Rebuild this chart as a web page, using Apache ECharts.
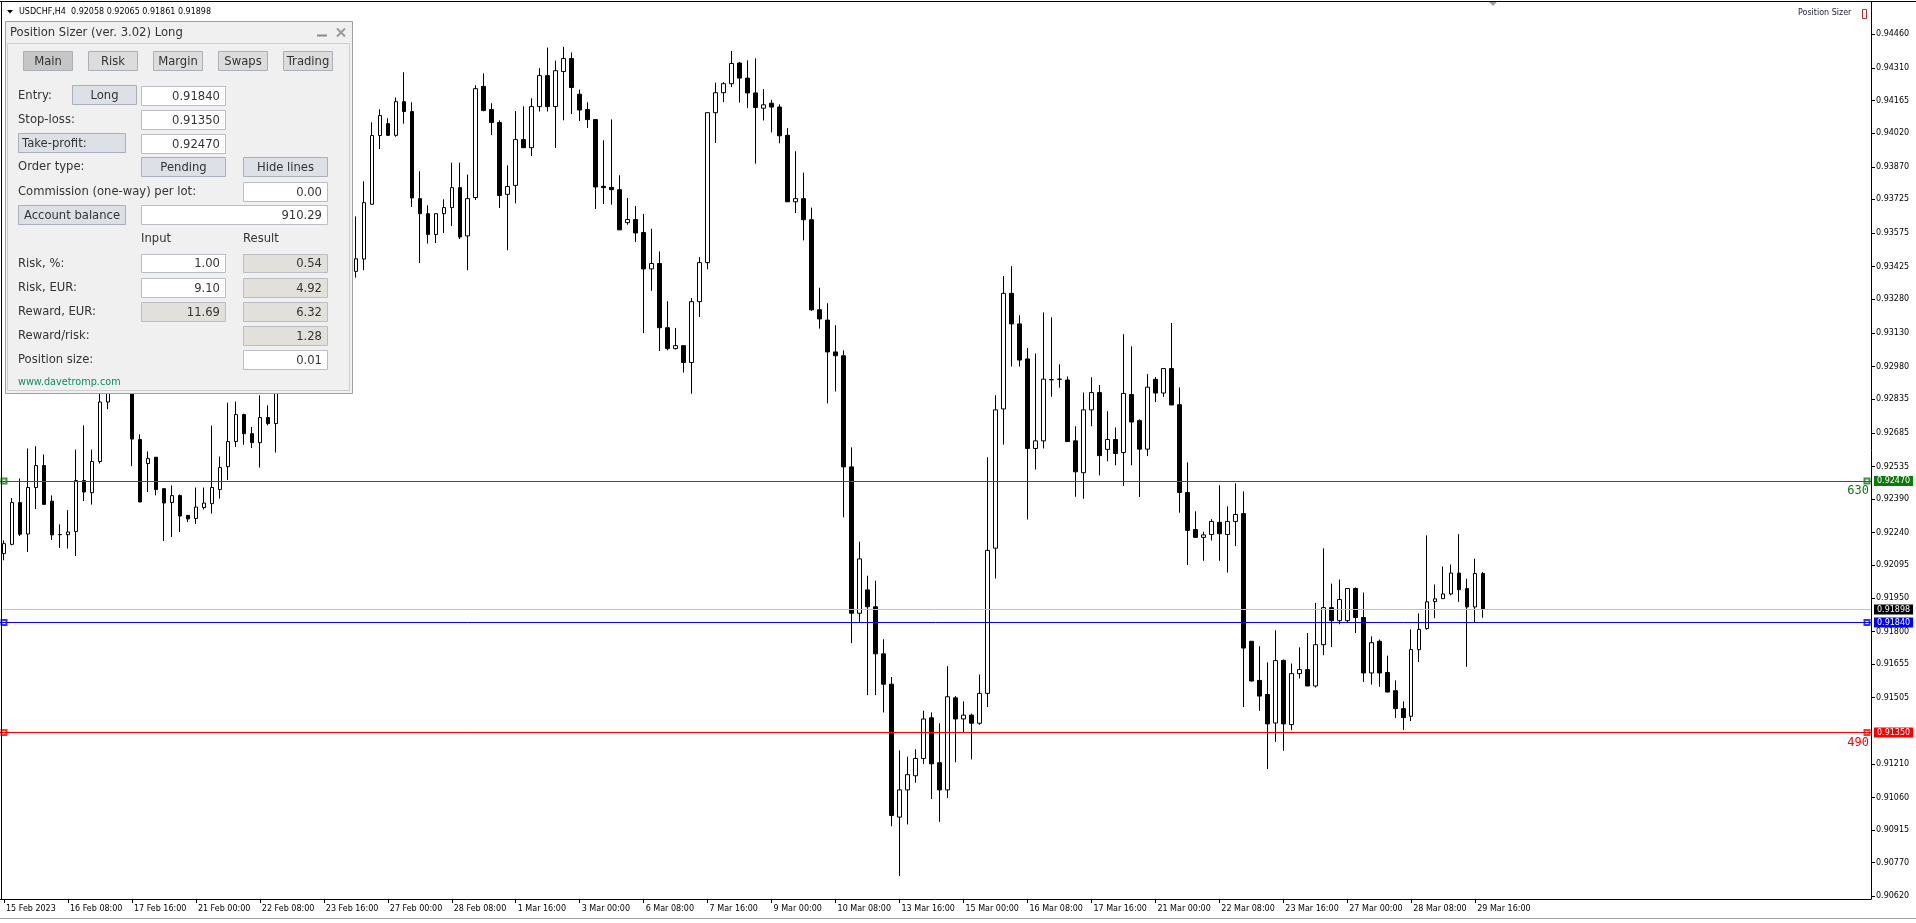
<!DOCTYPE html>
<html>
<head>
<meta charset="utf-8">
<script src="https://cdn.jsdelivr.net/npm/echarts@6/dist/echarts.min.js"></script>
<style>
html,body{margin:0;padding:0;background:#fff;}
#chart{width:1916px;height:923px;}
</style>
</head>
<body>
<div id="chart"></div>
<script>
// ---- candle data (USDCHF H4, 15 Feb 2023 00:00 .. 29 Mar 2023 20:00) ----
const open = [0.92147,0.92188,0.92374,0.92234,0.92441,0.92539,0.92380,0.92232,0.92231,0.92245,
0.92472,0.92418,0.92557,0.92822,0.92883,0.92954,0.92919,0.92655,0.92548,0.92576,
0.92436,0.92374,0.92405,0.92317,0.92303,0.92352,0.92369,0.92432,0.92534,0.92646,
0.92766,0.92681,0.92641,0.92753,0.92726,0.92896,0.92963,0.92928,0.93075,0.93141,
0.93097,0.93253,0.93320,0.93293,0.93404,0.93459,0.93703,0.94009,0.94062,0.94010,
0.94160,0.94116,0.93728,0.93661,0.93568,0.93661,0.93688,0.93777,0.93562,0.93733,
0.94228,0.94125,0.94067,0.93747,0.93787,0.93991,0.93955,0.94138,0.94276,0.94138,
0.94294,0.94352,0.94193,0.94125,0.94080,0.93783,0.93778,0.93768,0.93621,0.93635,
0.93577,0.93415,0.93439,0.93153,0.93060,0.93073,0.92998,0.93269,0.93443,0.94111,
0.94200,0.94240,0.94332,0.94265,0.94199,0.94131,0.94153,0.94136,0.94010,0.93714,
0.93728,0.93634,0.93233,0.93187,0.93045,0.93028,0.92533,0.91881,0.91985,0.91910,
0.91700,0.91565,0.90973,0.91094,0.91157,0.91234,0.91415,0.91215,0.91094,0.91504,
0.91410,0.91427,0.91391,0.91524,0.92171,0.92791,0.93306,0.93170,0.93014,0.92615,
0.92649,0.92921,0.92923,0.92920,0.92649,0.92507,0.92787,0.92864,0.92611,0.92655,
0.92597,0.92855,0.92739,0.92612,0.92923,0.92862,0.92971,0.92810,0.92419,0.92254,
0.92219,0.92232,0.92286,0.92232,0.92290,0.92325,0.91756,0.91582,0.91519,0.91392,
0.91671,0.91385,0.91612,0.91630,0.91557,0.91741,0.91906,0.91848,0.91848,0.91991,
0.91862,0.91615,0.91756,0.91617,0.91536,0.91456,0.91422,0.91719,0.91813,0.91933,
0.91946,0.91967,0.92060,0.91991,0.91909,0.92058];
const high = [0.92206,0.92394,0.92481,0.92615,0.92625,0.92588,0.92406,0.92277,0.92340,0.92610,
0.92718,0.92610,0.92865,0.92919,0.92986,0.92999,0.92941,0.92678,0.92602,0.92577,
0.92437,0.92450,0.92410,0.92318,0.92441,0.92441,0.92717,0.92579,0.92819,0.92824,
0.92770,0.92711,0.92852,0.92807,0.92928,0.92999,0.93008,0.93097,0.93186,0.93177,
0.93284,0.93364,0.93355,0.93431,0.93649,0.93805,0.94068,0.94126,0.94086,0.94179,
0.94291,0.94157,0.93850,0.93698,0.93662,0.93725,0.93888,0.93888,0.93835,0.94233,
0.94286,0.94153,0.94077,0.93876,0.94118,0.94139,0.94175,0.94309,0.94401,0.94343,
0.94404,0.94379,0.94214,0.94157,0.94081,0.93988,0.94081,0.93832,0.93731,0.93695,
0.93660,0.93594,0.93493,0.93271,0.93152,0.93074,0.93285,0.93467,0.94112,0.94245,
0.94247,0.94386,0.94337,0.94344,0.94353,0.94216,0.94168,0.94148,0.94042,0.93939,
0.93844,0.93688,0.93331,0.93262,0.93164,0.93052,0.92620,0.92200,0.92048,0.92026,
0.91765,0.91597,0.91270,0.91242,0.91275,0.91447,0.91439,0.91391,0.91645,0.91512,
0.91488,0.91434,0.91608,0.92576,0.92852,0.93383,0.93427,0.93209,0.93062,0.93038,
0.93221,0.93199,0.92990,0.92936,0.92714,0.92864,0.92932,0.92898,0.92781,0.92709,
0.93124,0.93070,0.92745,0.92946,0.92933,0.92972,0.93174,0.92887,0.92553,0.92335,
0.92244,0.92300,0.92451,0.92357,0.92460,0.92424,0.91757,0.91734,0.91662,0.91805,
0.91675,0.91657,0.91729,0.91793,0.91927,0.92170,0.92013,0.92031,0.91992,0.91996,
0.91973,0.91778,0.91764,0.91692,0.91582,0.91488,0.91809,0.91880,0.92228,0.92009,
0.92089,0.92098,0.92233,0.92035,0.92124,0.92065];
const low = [0.92117,0.92184,0.92225,0.92154,0.92345,0.92363,0.92207,0.92172,0.92169,0.92136,
0.92381,0.92365,0.92548,0.92790,0.92865,0.92874,0.92536,0.92375,0.92421,0.92406,
0.92203,0.92221,0.92243,0.92287,0.92279,0.92343,0.92325,0.92392,0.92475,0.92622,
0.92631,0.92617,0.92530,0.92718,0.92597,0.92865,0.92896,0.92910,0.93043,0.93061,
0.93075,0.93222,0.93275,0.93275,0.93376,0.93409,0.93700,0.93949,0.94007,0.94004,
0.94062,0.93691,0.93441,0.93528,0.93530,0.93575,0.93606,0.93548,0.93409,0.93722,
0.94117,0.94011,0.93686,0.93498,0.93707,0.93954,0.93918,0.94116,0.94116,0.93954,
0.94077,0.94105,0.94074,0.94043,0.93682,0.93704,0.93701,0.93588,0.93612,0.93535,
0.93129,0.93317,0.93049,0.93052,0.93056,0.92953,0.92859,0.93201,0.93413,0.93976,
0.94158,0.94225,0.94156,0.94131,0.93884,0.94076,0.94023,0.93975,0.93713,0.93664,
0.93542,0.93228,0.93149,0.92816,0.92869,0.92308,0.91748,0.91842,0.91516,0.91516,
0.91439,0.90932,0.90711,0.90940,0.91126,0.91210,0.91053,0.90952,0.91058,0.91217,
0.91352,0.91230,0.91384,0.91463,0.92036,0.92632,0.92980,0.92980,0.92299,0.92521,
0.92615,0.92845,0.92886,0.92644,0.92400,0.92391,0.92714,0.92495,0.92558,0.92540,
0.92448,0.92540,0.92399,0.92581,0.92822,0.92845,0.92808,0.92329,0.92096,0.92218,
0.92115,0.92205,0.92115,0.92062,0.92180,0.91463,0.91578,0.91446,0.91187,0.91308,
0.91268,0.91360,0.91590,0.91556,0.91550,0.91694,0.91730,0.91832,0.91842,0.91793,
0.91575,0.91563,0.91553,0.91529,0.91414,0.91361,0.91401,0.91664,0.91808,0.91859,
0.91945,0.91961,0.91932,0.91642,0.91839,0.91861];
const close = [0.92191,0.92374,0.92233,0.92441,0.92539,0.92366,0.92230,0.92231,0.92243,0.92472,
0.92421,0.92557,0.92822,0.92883,0.92954,0.92919,0.92657,0.92377,0.92570,0.92432,
0.92372,0.92405,0.92314,0.92301,0.92354,0.92372,0.92441,0.92530,0.92646,0.92766,
0.92681,0.92641,0.92753,0.92726,0.92896,0.92963,0.92928,0.93075,0.93141,0.93097,
0.93253,0.93320,0.93293,0.93404,0.93460,0.93710,0.94009,0.94098,0.94010,0.94160,
0.94116,0.93731,0.93661,0.93568,0.93661,0.93688,0.93777,0.93557,0.93728,0.94218,
0.94121,0.94067,0.93742,0.93782,0.93991,0.93955,0.94138,0.94276,0.94138,0.94298,
0.94352,0.94223,0.94123,0.94080,0.93780,0.93777,0.93768,0.93589,0.93635,0.93575,
0.93415,0.93439,0.93153,0.93060,0.93073,0.92998,0.93269,0.93443,0.94111,0.94200,
0.94240,0.94330,0.94265,0.94199,0.94134,0.94146,0.94136,0.94008,0.93714,0.93728,
0.93634,0.93233,0.93192,0.93045,0.93028,0.92533,0.91881,0.92123,0.91910,0.91700,
0.91565,0.90980,0.91094,0.91162,0.91234,0.91410,0.91210,0.91094,0.91509,0.91410,
0.91427,0.91391,0.91524,0.92161,0.92787,0.93306,0.93170,0.93009,0.92615,0.92649,
0.92924,0.92922,0.92924,0.92646,0.92511,0.92787,0.92864,0.92583,0.92655,0.92593,
0.92860,0.92733,0.92612,0.92888,0.92862,0.92971,0.92809,0.92419,0.92250,0.92219,
0.92230,0.92290,0.92235,0.92290,0.92321,0.91726,0.91579,0.91512,0.91388,0.91670,
0.91388,0.91612,0.91630,0.91557,0.91741,0.91906,0.91848,0.91942,0.91991,0.91862,
0.91615,0.91750,0.91615,0.91530,0.91456,0.91416,0.91719,0.91809,0.91932,0.91945,
0.91967,0.92060,0.91986,0.91909,0.92058,0.91898];

// time-axis tick labels, one every 8 H4 bars starting at bar 0
const xTickLabels = ['15 Feb 2023','16 Feb 08:00','17 Feb 16:00','21 Feb 00:00','22 Feb 08:00','23 Feb 16:00',
'27 Feb 00:00','28 Feb 08:00','1 Mar 16:00','3 Mar 00:00','6 Mar 08:00','7 Mar 16:00','9 Mar 00:00',
'10 Mar 08:00','13 Mar 16:00','15 Mar 00:00','16 Mar 08:00','17 Mar 16:00','21 Mar 00:00','22 Mar 08:00',
'23 Mar 16:00','27 Mar 00:00','28 Mar 08:00','29 Mar 16:00'];
// price-axis tick labels
const yTicks = [0.94460,0.94310,0.94165,0.94020,0.93870,0.93725,0.93575,0.93425,0.93280,0.93130,
0.92980,0.92835,0.92685,0.92535,0.92390,0.92240,0.92095,0.91950,0.91800,0.91655,0.91505,
0.91210,0.91060,0.90915,0.90770,0.90620];
const yMin = 0.90608, yMax = 0.94604;

// trade levels
const entryPrice = 0.91840, stopPrice = 0.91350, takePrice = 0.92470, bidPrice = 0.91898;
const tpPoints = '630', slPoints = '490';

// Position sizer panel contents
const tabNames = ['Main','Risk','Margin','Swaps','Trading'];
const panelValues = {entry:'0.91840', sl:'0.91350', tp:'0.92470', commission:'0.00', balance:'910.29',
  riskPctIn:'1.00', riskPctRes:'0.54', riskCurIn:'9.10', riskCurRes:'4.92', rewardIn:'11.69', rewardRes:'6.32',
  rr:'1.28', size:'0.01'};

const SLOTS = 234; // bar slots visible on the chart (incl. right-side shift space)
const cats = Array.from({length: SLOTS}, (_, i) => String(i));
const candleData = open.map((o, i) => [o, close[i], low[i], high[i]]);

const chart = echarts.init(document.getElementById('chart'), null, {renderer: 'canvas'});
const FONT = '"DejaVu Sans"';
const isTick = (i) => i % 8 === 0 && i / 8 < xTickLabels.length;

function levelLine(v, color, boxBg, boxText) {
  return {yAxis: v, lineStyle: {color: color, type: 'solid', width: 1},
    label: {show: true, position: 'end', distance: 3, formatter: boxText, backgroundColor: boxBg,
      color: '#fff', fontFamily: FONT, fontSize: 8, lineHeight: 9, padding: [1, 3, 0, 3]}};
}
function pointsLabel(v, color, txt) {
  return {yAxis: v, lineStyle: {color: color, type: 'solid', width: 1},
    label: {show: true, position: 'insideEndBottom', distance: [2, 4], formatter: txt, color: color,
      fontFamily: '"DejaVu Sans Mono"', fontSize: 12}};
}
function markLineOf(lines) {
  return {silent: true, symbol: ['none', 'none'], animation: false, precision: 5, data: lines};
}
function levelSeries(v, color, lines, z) {
  return {type: 'scatter', data: [[0, v], [SLOTS - 1, v]], symbol: 'emptyRect', symbolSize: 5,
    itemStyle: {color: color, borderColor: color, borderWidth: 1}, silent: true, z: z,
    markLine: markLineOf(lines)};
}

// --- graphic helpers for the panel
const Z = 100;
function R(x, y, w, h, fill, stroke) {
  return {type: 'rect', shape: {x: x, y: y, width: w, height: h},
    style: {fill: fill, stroke: stroke || null, lineWidth: 1}, z: Z, silent: true};
}
function T(x, y, s, opt) {
  return {type: 'text', x: x, y: y, z: Z + 1, silent: true,
    style: Object.assign({text: s, fill: '#333', font: '11.6px ' + FONT, align: 'left', verticalAlign: 'middle'}, opt || {})};
}
function button(x, y, w, h, label, bg, alignLeft) {
  return [R(x + 0.5, y + 0.5, w, h, bg, '#a9b0ba'),
    alignLeft ? T(x + 4, y + h / 2 + 1, label) : T(x + w / 2 + 0.5, y + h / 2 + 1, label, {align: 'center'})];
}
function input(x, y, w, h, val, bg) {
  return [R(x + 0.5, y + 0.5, w, h, bg || '#fff', '#b9bec4'), T(x + w - 5, y + h / 2 + 1, val, {align: 'right'})];
}

const g = [];
// panel frame
g.push(R(5.5, 21.5, 347, 372, '#f0f0f0', '#a0a0a0'));
g.push(R(7.5, 43.5, 342, 347, null, '#cfcfcf'));
g.push(T(10, 33, 'Position Sizer (ver. 3.02) Long'));
g.push({type: 'line', shape: {x1: 317, y1: 35.5, x2: 327, y2: 35.5}, style: {stroke: '#8a8a8a', lineWidth: 2}, z: Z + 1});
g.push({type: 'line', shape: {x1: 337, y1: 28.5, x2: 345, y2: 36.5}, style: {stroke: '#9a9a9a', lineWidth: 2}, z: Z + 1});
g.push({type: 'line', shape: {x1: 345, y1: 28.5, x2: 337, y2: 36.5}, style: {stroke: '#9a9a9a', lineWidth: 2}, z: Z + 1});
// tabs
tabNames.forEach((n, k) => {
  const x = 23 + 65 * k;
  g.push(...button(x, 51, 49, 19, n, k === 0 ? '#c6c6c6' : '#dcdcdc'));
});
// rows
g.push(T(18, 96, 'Entry:'));
g.push(...button(72, 85, 64, 19, 'Long', '#dde1e7'));
g.push(...input(141, 86, 84, 19, panelValues.entry));
g.push(T(18, 120, 'Stop-loss:'));
g.push(...input(141, 110, 84, 19, panelValues.sl));
g.push(...button(18, 133, 107, 19, 'Take-profit:', '#dde1e7', true));
g.push(...input(141, 134, 84, 19, panelValues.tp));
g.push(T(18, 167, 'Order type:'));
g.push(...button(141, 157, 84, 19, 'Pending', '#dde1e7'));
g.push(...button(243, 157, 84, 19, 'Hide lines', '#dde1e7'));
g.push(T(18, 192, 'Commission (one-way) per lot:'));
g.push(...input(243, 182, 84, 19, panelValues.commission));
g.push(...button(18, 205, 107, 19, 'Account balance', '#dde1e7'));
g.push(...input(141, 205, 186, 19, panelValues.balance));
g.push(T(141, 239, 'Input'));
g.push(T(243, 239, 'Result'));
g.push(T(18, 264, 'Risk, %:'));
g.push(...input(141, 254, 84, 18, panelValues.riskPctIn));
g.push(...input(243, 254, 84, 18, panelValues.riskPctRes, '#e1e0da'));
g.push(T(18, 288, 'Risk, EUR:'));
g.push(...input(141, 278, 84, 19, panelValues.riskCurIn));
g.push(...input(243, 278, 84, 19, panelValues.riskCurRes, '#e1e0da'));
g.push(T(18, 312, 'Reward, EUR:'));
g.push(...input(141, 302, 84, 19, panelValues.rewardIn, '#e1e0da'));
g.push(...input(243, 302, 84, 19, panelValues.rewardRes, '#e1e0da'));
g.push(T(18, 336, 'Reward/risk:'));
g.push(...input(243, 326, 84, 19, panelValues.rr, '#e1e0da'));
g.push(T(18, 360, 'Position size:'));
g.push(...input(243, 350, 84, 19, panelValues.size));
g.push(T(18, 382, 'www.davetromp.com', {fill: '#0f8a5f', font: '9.7px ' + FONT}));

// chart header / frame
g.push({type: 'polygon', shape: {points: [[7, 10], [13, 10], [10, 13.5]]}, style: {fill: '#000'}, z: 50});
g.push({type: 'text', x: 19, y: 12, z: 50, style: {text: 'USDCHF,H4  0.92058 0.92065 0.91861 0.91898', fill: '#000', font: '8px ' + FONT, verticalAlign: 'middle'}});
g.push({type: 'text', x: 1798, y: 13, z: 50, style: {text: 'Position Sizer', fill: '#1a1a3a', font: '8px ' + FONT, verticalAlign: 'middle'}});
g.push({type: 'rect', shape: {x: 1862.5, y: 9.5, width: 4, height: 9}, style: {fill: null, stroke: '#b03030', lineWidth: 1}, z: 50});
g.push({type: 'polygon', shape: {points: [[1489, 2], [1497, 2], [1493, 6]]}, style: {fill: '#a0a0a0'}, z: 50});
g.push({type: 'line', shape: {x1: 0, y1: 1.5, x2: 1916, y2: 1.5}, style: {stroke: '#000', lineWidth: 1}, z: 50});
g.push({type: 'line', shape: {x1: 1.5, y1: 1, x2: 1.5, y2: 899}, style: {stroke: '#000', lineWidth: 1}, z: 50});
g.push({type: 'line', shape: {x1: 0, y1: 918.5, x2: 1916, y2: 918.5}, style: {stroke: '#a0a0a0', lineWidth: 1}, z: 50});

const option = {
  animation: false,
  backgroundColor: '#ffffff',
  grid: {left: 0, right: 45, top: 2, bottom: 24, show: false},
  xAxis: {
    type: 'category', data: cats, boundaryGap: true,
    axisLine: {show: true, lineStyle: {color: '#000', width: 1}},
    axisTick: {show: true, alignWithLabel: true, interval: (i) => isTick(i), length: 4, lineStyle: {color: '#000'}},
    axisLabel: {show: true, interval: (i) => isTick(i), formatter: (v) => xTickLabels[Number(v) / 8] || '',
      align: 'left', color: '#000', fontFamily: FONT, fontSize: 8, margin: 6, padding: [0, 0, 0, 2]},
    splitLine: {show: false}
  },
  yAxis: {
    type: 'value', position: 'right', min: yMin, max: yMax,
    axisLine: {show: true, lineStyle: {color: '#000', width: 1}},
    axisTick: {show: true, customValues: yTicks, length: 4, lineStyle: {color: '#000'}},
    axisLabel: {show: true, customValues: yTicks, formatter: (v) => v.toFixed(5), color: '#000',
      fontFamily: FONT, fontSize: 8, margin: 5},
    splitLine: {show: false}
  },
  series: [
    {type: 'scatter', data: [], silent: true, z: 1,
      markLine: markLineOf([levelLine(bidPrice, '#c0c0c0', '#000', bidPrice.toFixed(5))])},
    {
      type: 'candlestick', data: candleData, barWidth: 4, silent: true, z: 3,
      itemStyle: {color: '#fff', color0: '#000', borderColor: '#000', borderColor0: '#000', borderWidth: 1}
    },
    levelSeries(takePrice, '#0b7a0b', [levelLine(takePrice, '#0b7a0b', '#0b7a0b', takePrice.toFixed(5)),
      pointsLabel(takePrice, '#0b7a0b', tpPoints)], 4),
    levelSeries(entryPrice, '#0000ff', [levelLine(entryPrice, '#0000ff', '#0000ff', entryPrice.toFixed(5))], 4),
    levelSeries(stopPrice, '#ff0000', [levelLine(stopPrice, '#ff0000', '#ff0000', stopPrice.toFixed(5)),
      pointsLabel(stopPrice, '#ff0000', slPoints)], 4)
  ],
  graphic: {elements: g}
};
chart.setOption(option);
</script>
</body>
</html>
